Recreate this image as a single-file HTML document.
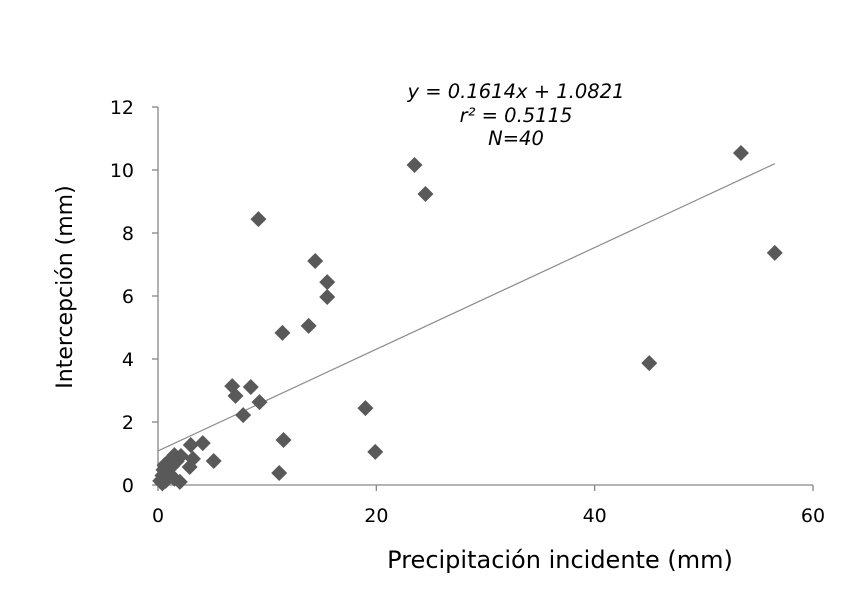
<!DOCTYPE html>
<html><head><meta charset="utf-8"><style>
body{margin:0;background:#fff;}
svg{display:block;font-family:"DejaVu Sans","Liberation Sans",sans-serif;}
</style></head><body>
<svg id="chart" width="855" height="591" viewBox="0 0 855 591"></svg>
<script>
const xVals=[23.5,24.5,53.4,56.5,45.0,9.2,14.4,15.5,15.5,13.8,11.4,6.8,7.1,8.5,9.3,7.8,19.0,19.9,11.5,11.1,4.1,3.0,5.1,3.2,2.9,2.0,2.1,1.5,1.0,0.6,0.5,0.4,0.2,0.7,1.2,0.9,1.3,1.7,0.4,1.5];
const yVals=[10.16,9.24,10.54,7.37,3.87,8.44,7.11,6.44,5.97,5.05,4.83,3.14,2.83,3.11,2.63,2.22,2.44,1.05,1.43,0.38,1.33,1.27,0.76,0.83,0.57,0.1,0.92,0.95,0.76,0.63,0.48,0.3,0.13,0.13,0.3,0.5,0.6,0.75,0.05,0.2];
const xTicks=[0,20,40,60];
const yTicks=[0,2,4,6,8,10,12];
const slope=0.1614, intercept=1.0821;
const NS="http://www.w3.org/2000/svg";
const svg=document.getElementById('chart');
const X=v=>158+v*(813-158)/60;
const Y=v=>485-v*(485-107)/12;
function mk(t,a,txt){const e=document.createElementNS(NS,t);for(const k in a)e.setAttribute(k,a[k]);if(txt!==undefined)e.textContent=txt;svg.appendChild(e);return e;}
let e;
e=mk('line',{x1:X(0),y1:Y(0),x2:X(60),y2:Y(0),stroke:'#868686','stroke-width':1.3});


e=mk('line',{x1:X(0),y1:Y(0),x2:X(0),y2:Y(12),stroke:'#868686','stroke-width':1.3});


xTicks.forEach(t=>{
 e=mk('line',{x1:X(t),y1:Y(0),x2:X(t),y2:Y(0)+6,stroke:'#868686','stroke-width':1.3});
 
 
 e=mk('text',{x:X(t),y:522,'text-anchor':'middle','font-size':19,fill:'#000'},t);
 
 
});
yTicks.forEach(t=>{
 e=mk('line',{x1:X(0)-6,y1:Y(t),x2:X(0),y2:Y(t),stroke:'#868686','stroke-width':1.3});
 
 
 e=mk('text',{x:134,y:Y(t)+7,'text-anchor':'end','font-size':19,fill:'#000'},t);
 
 
});
e=mk('line',{x1:X(0),y1:Y(intercept),x2:X(56.5),y2:Y(slope*56.5+intercept),stroke:'#8c8c8c','stroke-width':1.2});


xVals.forEach((xv,i)=>{
 const cx=X(xv),cy=Y(yVals[i]),r=8;
 e=mk('polygon',{points:`${cx},${cy-r} ${cx+r},${cy} ${cx},${cy+r} ${cx-r},${cy}`,fill:'#595959'});
 
 
});
e=mk('text',{x:560,y:568,'text-anchor':'middle','font-size':24,fill:'#000'},'Precipitación incidente (mm)');


e=mk('text',{x:72,y:287,'text-anchor':'middle','font-size':22,fill:'#000',transform:'rotate(-90 72 287)'},'Intercepción (mm)');


[['y = 0.1614x + 1.0821',98],['r² = 0.5115',122],['N=40',145]].forEach(([s,y])=>{
 e=mk('text',{x:516,y:y,'text-anchor':'middle','font-size':19.5,'font-style':'italic',fill:'#000'},s);
 
 
});
</script>
</body></html>
